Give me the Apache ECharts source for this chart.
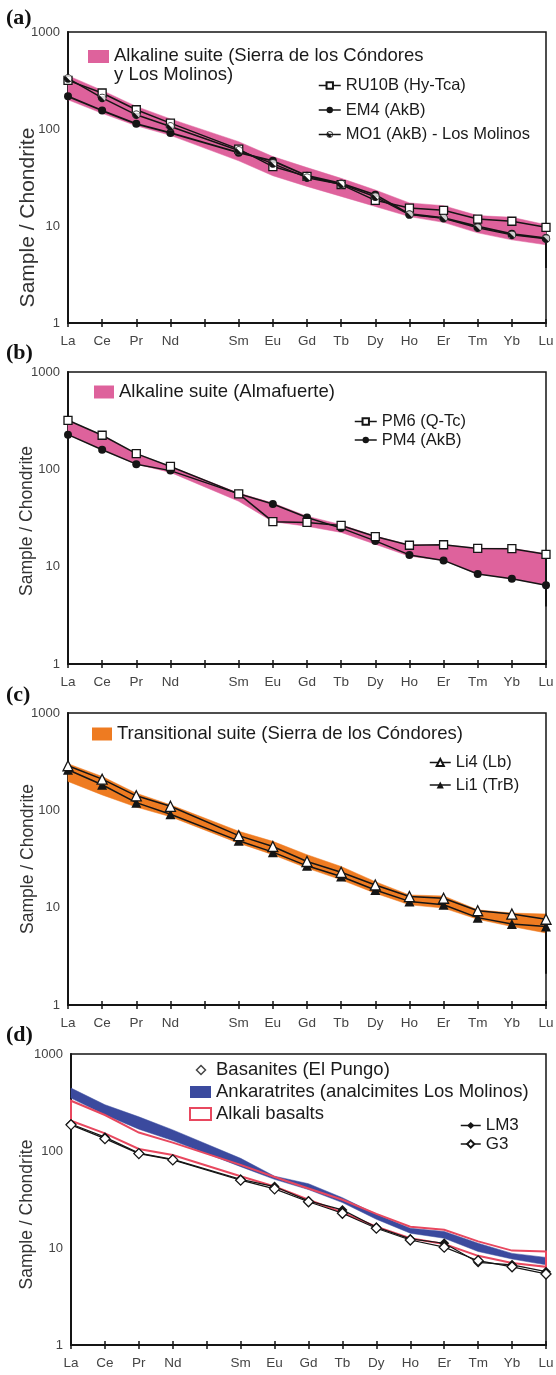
<!DOCTYPE html>
<html>
<head>
<meta charset="utf-8">
<script src="https://cdn.jsdelivr.net/npm/echarts@6/dist/echarts.min.js"></script>
<style>
  html, body { margin: 0; padding: 0; background: #fff; }
  #chart { width: 556px; height: 1375px; }
</style>
</head>
<body>
<div id="chart"></div>
<script>
// REE normalised to chondrite; Pm has no data (empty slot on the axis)
const ELEMENTS = ['La', 'Ce', 'Pr', 'Nd', '', 'Sm', 'Eu', 'Gd', 'Tb', 'Dy', 'Ho', 'Er', 'Tm', 'Yb', 'Lu'];
const Y_TICKS = [1, 10, 100, 1000];
const Y_MINOR = [2, 3, 4, 5, 6, 7, 8, 9, 20, 30, 40, 50, 60, 70, 80, 90, 200, 300, 400, 500, 600, 700, 800, 900];
const PANEL_LABELS = ['(a)', '(b)', '(c)', '(d)'];

// (a) Alkaline suite (Sierra de los Cóndores y Los Molinos)
const A_BAND_NAME = 'Alkaline suite (Sierra de los Cóndores\ny Los Molinos)';
const A_BAND_UP = [355, 250, 171, 127, null, 74, 52, 40, 31, 23.5, 17.3, 16.2, 12.8, 12.3, 10.3];
const A_BAND_LO = [200, 145, 108, 86, null, 47, 33, 25.6, 20.2, 15.9, 12.5, 10.9, 8.5, 7.2, 6.4];
const A_RU10B = [317, 235, 158, 115, null, 62, 41, 32.5, 26.7, 18.4, 15.3, 14.5, 11.8, 11.2, 9.7];
const A_EM4 = [217, 155, 113, 91, null, 57, 47, 33, 27.5, 21, 13.3, 12.1, 9.9, 8.3, 7.5];
const A_MO1 = [332, 209, 140, 106, null, 60, 44, 31.5, 27, 20, 13.1, 12, 9.6, 8.1, 7.4];
const A_LU_TAIL = [7.4, 3.7];

// (b) Alkaline suite (Almafuerte)
const B_BAND_NAME = 'Alkaline suite (Almafuerte)';
const B_BAND_UP = [319, 224, 145, 107, null, 57, 45, 33, 27, 20.6, 16.8, 16.8, 15.5, 15.4, 13.6];
const B_BAND_LO = [227, 159, 113, 93, null, 47, 29, 26, 22.5, 17, 12.8, 11.6, 8.4, 7.5, 6.45];
const B_PM6 = [319, 224, 145, 107, null, 56, 29, 28.5, 26.5, 20.4, 16.6, 16.8, 15.4, 15.3, 13.4];
const B_PM4 = [227, 159, 113, 97, null, 56, 44, 32, 24.9, 18.4, 13.2, 11.6, 8.4, 7.5, 6.45];
const B_LU_TAIL = [12.6, 3.9];

// (c) Transitional suite (Sierra de los Cóndores)
const C_BAND_NAME = 'Transitional suite (Sierra de los Cóndores)';
const C_BAND_UP = [301, 223, 150, 114, null, 61, 48, 35, 26.5, 18.5, 13.5, 13.2, 9.5, 8.8, 8.6];
const C_BAND_LO = [198, 144, 108, 86, null, 46, 35, 25.5, 19.3, 14.1, 10.7, 9.9, 7.6, 6.4, 5.5];
const C_LI4 = [287, 209, 141, 110, null, 55, 42.5, 29.8, 23.1, 17.1, 13, 12.5, 9.3, 8.6, 7.6];
const C_LI1 = [261, 183, 120, 91, null, 48.6, 37.2, 26.9, 20.9, 15.2, 11.6, 10.7, 7.9, 6.8, 6.4];
const C_LU_TAIL = [6.3, 2.1];

// (d) comparison fields
const D_ANK_UP = [445, 300, 225, 165, null, 84, 55, 46, 33, 22.3, 16, 14.8, 11.2, 8.8, 8];
const D_ANK_LO = [351, 236, 168, 128, null, 69, 51, 40, 29.4, 19.8, 14.2, 12.6, 9.2, 7.7, 6.7];
const D_ALK_UP = [330, 235, 155, 122, null, 72, 54, 41, 31.4, 22.5, 16.6, 15.4, 11.7, 9.4, 9.2];
const D_ALK_LO = [205, 152, 105, 91, null, 55, 43, 31.4, 23.2, 16.6, 12.6, 11, 8.3, 7, 6.4];
const D_LM3 = [190, 139, 95, 82, null, 51, 43, 30.6, 24.7, 16.4, 12.4, 11.2, 7.1, 6.7, 5.7];
const D_G3 = [186, 134, 94, 81, null, 50, 40.7, 30, 22.8, 16, 12.1, 10.2, 7.4, 6.4, 5.4];

const FONT = 'Liberation Sans, Arial, Helvetica, sans-serif';
const INK = '#151515';
const PINK = '#de629c';
const ORANGE = '#ee7b21';
const BLUE = '#3b4a9e';
const RED = '#e8485f';

// half-filled circle used for MO1
const HALF_CIRCLE = 'path://M0,10A10,10 0 1,1 20,10A10,10 0 1,1 0,10Z M1.8,10A8.2,8.2 0 1,0 18.2,10A8.2,8.2 0 1,0 1.8,10Z M15.8,15.8A8.2,8.2 0 0,1 4.2,4.2Z';
// legend swatch sitting on the first of two text lines
const TALL_SWATCH = 'path://M0,0H21V13H0Z M0,31L0.01,31';
// small diamond inside a 21x12 legend box
const LEGEND_DIAMOND = 'path://M11,1.5L15.5,6L11,10.5L6.5,6Z M0,0L0.01,0 M21,12L20.99,12';

const GRIDS = [
  { left: 68, top: 32, width: 478, height: 291 },
  { left: 68, top: 372, width: 478, height: 292 },
  { left: 68, top: 713, width: 478, height: 292 },
  { left: 71, top: 1054, width: 475, height: 291 }
];
const NAME_STYLE = [
  { fontSize: 21, gap: 29, shift: 80 },
  { fontSize: 17.5, gap: 31.5, shift: 6 },
  { fontSize: 17.5, gap: 31, shift: 0 },
  { fontSize: 17.5, gap: 34.5, shift: 30 }
];
const LABEL_TOPS = [7, 342, 684, 1024];

function buildAxes() {
  const xAxis = [];
  const yAxis = [];
  GRIDS.forEach((_, p) => {
    xAxis.push({
      type: 'category', gridIndex: p, data: ELEMENTS, boundaryGap: false,
      axisLine: { onZero: false, lineStyle: { color: INK, width: 2 } },
      axisTick: { interval: 0, length: 4, lineStyle: { color: INK, width: 1.5 } },
      axisLabel: { interval: 0, margin: 11, color: '#444', fontSize: 13.5, fontFamily: FONT },
      splitLine: { show: false }
    });
    xAxis.push({
      type: 'category', gridIndex: p, data: ELEMENTS, boundaryGap: false, position: 'bottom',
      axisLine: { show: false },
      axisTick: { interval: 0, inside: true, length: 4, lineStyle: { color: INK, width: 1.5 } },
      axisLabel: { show: false }, splitLine: { show: false }
    });
    const ns = NAME_STYLE[p];
    yAxis.push({
      type: 'log', logBase: 10, gridIndex: p, min: 1, max: 1000, position: 'left',
      name: 'Sample / Chondrite', nameLocation: 'middle', nameGap: ns.gap, nameMoveOverlap: false,
      nameTextStyle: { fontSize: ns.fontSize, color: '#333', fontFamily: FONT, padding: [0, ns.shift, 0, 0] },
      axisLine: { show: true, onZero: false, lineStyle: { color: INK, width: 2 } },
      axisTick: { customValues: Y_TICKS, length: 4, lineStyle: { color: INK, width: 1.5 } },
      axisLabel: {
        customValues: Y_TICKS, margin: 8, color: '#444', fontSize: 13, fontFamily: FONT,
        formatter: (v) => String(Math.round(v))
      },
      splitLine: { show: false }
    });
    yAxis.push({
      type: 'log', logBase: 10, gridIndex: p, min: 1, max: 1000, position: 'left',
      axisLine: { show: false },
      axisTick: { customValues: Y_TICKS, inside: true, length: 4, lineStyle: { color: INK, width: 1.5 } },
      axisLabel: { show: false }, splitLine: { show: false }
    });
    yAxis.push({
      type: 'log', logBase: 10, gridIndex: p, min: 1, max: 1000, position: 'left',
      axisLine: { show: false },
      axisTick: { customValues: Y_MINOR, length: 3, lineStyle: { color: '#777', width: 1 } },
      axisLabel: { show: false }, splitLine: { show: false }
    });
  });
  return { xAxis, yAxis };
}

// field between an upper and a lower envelope, drawn as one polygon
function bandSeries(p, name, upper, lower, fill, stroke) {
  return {
    name,
    type: 'custom',
    xAxisIndex: 2 * p,
    yAxisIndex: 3 * p,
    silent: true,
    z: 1,
    itemStyle: { color: fill || '#fff', borderColor: stroke || fill, borderWidth: stroke ? 2 : 0 },
    data: upper.map((v, i) => [i, v, lower[i]]),
    renderItem(params, api) {
      if (params.dataIndex !== 0) {
        return null;
      }
      const top = [];
      const bottom = [];
      upper.forEach((v, i) => { if (v !== null) top.push(api.coord([i, v])); });
      lower.forEach((v, i) => { if (v !== null) bottom.push(api.coord([i, v])); });
      return {
        type: 'polygon',
        shape: { points: top.concat(bottom.reverse()) },
        style: stroke
          ? { fill: 'none', stroke, lineWidth: 2 }
          : { fill, stroke: fill, lineWidth: 0.5 }
      };
    }
  };
}

function sampleSeries(p, name, values, symbol, fill, size, width) {
  return {
    name,
    type: 'line',
    xAxisIndex: 2 * p,
    yAxisIndex: 3 * p,
    data: values,
    connectNulls: true,
    symbol,
    symbolSize: size,
    showAllSymbol: true,
    z: 3,
    lineStyle: { color: INK, width },
    itemStyle: { color: fill, borderColor: INK, borderWidth: fill === INK ? 0 : 1.3 },
    emphasis: { disabled: true }
  };
}

function tailSeries(p, values) {
  return {
    type: 'line',
    xAxisIndex: 2 * p,
    yAxisIndex: 3 * p,
    data: values.map((v) => [ELEMENTS.length - 1, v]),
    symbol: 'none',
    z: 2,
    lineStyle: { color: INK, width: 2 },
    silent: true
  };
}

const axes = buildAxes();

const series = [
  bandSeries(0, A_BAND_NAME, A_BAND_UP, A_BAND_LO, PINK),
  tailSeries(0, A_LU_TAIL),
  sampleSeries(0, 'EM4 (AkB)', A_EM4, 'circle', INK, 8, 1.8),
  sampleSeries(0, 'RU10B (Hy-Tca)', A_RU10B, 'rect', '#fff', 8, 1.5),
  {
    type: 'scatter', xAxisIndex: 0, yAxisIndex: 0, data: A_MO1, symbol: 'circle', symbolSize: 8,
    itemStyle: { color: '#fff' }, z: 3, silent: true
  },
  sampleSeries(0, 'MO1 (AkB) - Los Molinos', A_MO1, HALF_CIRCLE, INK, 8.5, 1.5),

  bandSeries(1, B_BAND_NAME, B_BAND_UP, B_BAND_LO, PINK),
  tailSeries(1, B_LU_TAIL),
  sampleSeries(1, 'PM4 (AkB)', B_PM4, 'circle', INK, 8, 1.5),
  sampleSeries(1, 'PM6 (Q-Tc)', B_PM6, 'rect', '#fff', 8, 1.5),

  bandSeries(2, C_BAND_NAME, C_BAND_UP, C_BAND_LO, ORANGE),
  tailSeries(2, C_LU_TAIL),
  sampleSeries(2, 'Li1 (TrB)', C_LI1, 'triangle', INK, 10, 1.5),
  sampleSeries(2, 'Li4 (Lb)', C_LI4, 'triangle', '#fff', 10, 1.5),

  bandSeries(3, 'Ankaratrites (analcimites Los Molinos)', D_ANK_UP, D_ANK_LO, BLUE),
  bandSeries(3, 'Alkali basalts', D_ALK_UP, D_ALK_LO, null, RED),
  {
    name: 'Basanites (El Pungo)', type: 'scatter', xAxisIndex: 6, yAxisIndex: 9, data: [],
    symbol: 'diamond', itemStyle: { color: '#fff', borderColor: INK, borderWidth: 1.5 }
  },
  sampleSeries(3, 'LM3', D_LM3, 'diamond', INK, 10, 1.2),
  sampleSeries(3, 'G3', D_G3, 'diamond', '#fff', 10, 1.2)
];

const bandText = { color: '#1a1a1a', fontSize: 18.5, fontFamily: FONT };
const sampleText = { color: '#1a1a1a', fontSize: 16.5, fontFamily: FONT };

const legend = [
  {
    left: 88, top: 46.5, padding: 0, selectedMode: false, itemWidth: 21, itemHeight: 31,
    textStyle: Object.assign({ lineHeight: 19 }, bandText),
    data: [{ name: A_BAND_NAME, icon: TALL_SWATCH, itemStyle: { color: PINK, borderWidth: 0 } }]
  },
  {
    left: 318, top: 77, padding: 0, orient: 'vertical', selectedMode: false,
    itemWidth: 22, itemHeight: 8, itemGap: 7.5, textStyle: sampleText,
    lineStyle: { width: 1.5 },
    data: ['RU10B (Hy-Tca)', 'EM4 (AkB)', 'MO1 (AkB) - Los Molinos']
  },
  {
    left: 94, top: 382.5, padding: 0, selectedMode: false, itemWidth: 20, itemHeight: 13,
    textStyle: bandText,
    data: [{ name: B_BAND_NAME, icon: 'rect', itemStyle: { color: PINK, borderWidth: 0 } }]
  },
  {
    left: 354, top: 413, padding: 0, orient: 'vertical', selectedMode: false,
    itemWidth: 22, itemHeight: 8, itemGap: 1.5, textStyle: sampleText,
    lineStyle: { width: 1.5 },
    data: ['PM6 (Q-Tc)', 'PM4 (AkB)']
  },
  {
    left: 92, top: 724.5, padding: 0, selectedMode: false, itemWidth: 20, itemHeight: 13,
    textStyle: bandText,
    data: [{ name: C_BAND_NAME, icon: 'rect', itemStyle: { color: ORANGE, borderWidth: 0 } }]
  },
  {
    left: 429, top: 754, padding: 0, orient: 'vertical', selectedMode: false,
    itemWidth: 21, itemHeight: 9, itemGap: 5.5, textStyle: sampleText,
    lineStyle: { width: 1.5 },
    data: ['Li4 (Lb)', 'Li1 (TrB)']
  },
  {
    left: 189, top: 1060.5, padding: 0, orient: 'vertical', selectedMode: false,
    itemWidth: 21, itemHeight: 12, itemGap: 3, textStyle: bandText,
    data: [
      { name: 'Basanites (El Pungo)', icon: LEGEND_DIAMOND, itemStyle: { color: '#fff', borderColor: INK, borderWidth: 1.5 } },
      { name: 'Ankaratrites (analcimites Los Molinos)', icon: 'rect', itemStyle: { color: BLUE, borderWidth: 0 } },
      { name: 'Alkali basalts', icon: 'rect', itemStyle: { color: '#fff', borderColor: RED, borderWidth: 2 } }
    ]
  },
  {
    left: 460, top: 1117, padding: 0, orient: 'vertical', selectedMode: false,
    itemWidth: 20, itemHeight: 9, itemGap: 1.5, textStyle: Object.assign({}, sampleText, { fontSize: 17 }),
    lineStyle: { width: 1.5 },
    data: ['LM3', 'G3']
  }
];

const chart = echarts.init(document.getElementById('chart'), null, { renderer: 'canvas' });
chart.setOption({
  animation: false,
  backgroundColor: '#fff',
  textStyle: { fontFamily: FONT },
  title: PANEL_LABELS.map((text, p) => ({
    text, left: 6, top: LABEL_TOPS[p], padding: 0,
    textStyle: { fontFamily: 'Liberation Serif, Times New Roman, serif', fontWeight: 'bold', fontSize: 22, color: '#111' }
  })),
  grid: GRIDS.map((g) => Object.assign({
    show: true, borderColor: INK, borderWidth: 1.5, backgroundColor: 'transparent',
    containLabel: false, outerBoundsMode: 'none'
  }, g)),
  legend,
  tooltip: { show: false },
  xAxis: axes.xAxis,
  yAxis: axes.yAxis,
  series
});
</script>
</body>
</html>
